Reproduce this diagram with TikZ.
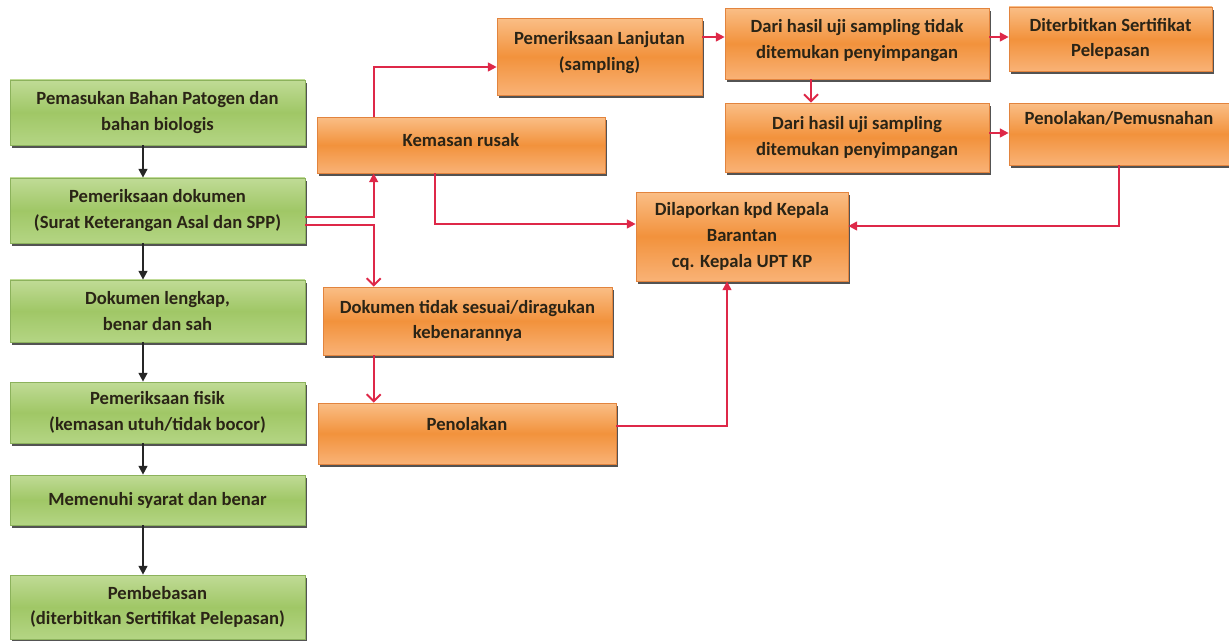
\documentclass[tikz,border=0pt]{standalone}
\usepackage{fontspec}
\setmainfont{Carlito}
\usetikzlibrary{arrows.meta,shadows}
\definecolor{ink}{RGB}{42,36,22}
\definecolor{leaftop}{RGB}{192,219,150}
\definecolor{leafmid}{RGB}{160,199,102}
\definecolor{leafbot}{RGB}{180,213,132}
\definecolor{leafedge}{RGB}{140,178,92}
\definecolor{peeltop}{RGB}{250,190,134}
\definecolor{peelmid}{RGB}{242,146,60}
\definecolor{peelbot}{RGB}{249,178,118}
\definecolor{peeledge}{RGB}{226,132,62}
\definecolor{flow}{RGB}{222,40,72}

\begin{document}
\begin{tikzpicture}[x=0.02cm, y=-0.02cm]
   \useasboundingbox (0,0) rectangle (1229,641);
   \tikzstyle{card}=[rectangle, align=center, text=ink, inner sep=2pt,
      font=\bfseries\fontsize{10.6}{14.6}\selectfont,
      drop shadow={shadow xshift=1.1pt, shadow yshift=-1.6pt, fill=black!75, opacity=.9}]
   \tikzstyle{okbox}=[card, draw=leafedge, top color=leaftop, bottom color=leafbot, middle color=leafmid, minimum width=5.9cm]
   \tikzstyle{warnbox}=[card, draw=peeledge, top color=peeltop, bottom color=peelbot, middle color=peelmid]
   \tikzstyle{barr}=[draw=black!85, line width=1pt, -{Triangle[length=5pt, width=5pt]}]
   \tikzstyle{rarr}=[draw=flow, line width=1.1pt, -{Triangle[length=5pt, width=5pt]}]
   \tikzstyle{rarrv}=[draw=flow, line width=1.1pt, -{Straight Barb[length=4pt, width=8pt]}]
   \foreach \i/\y/\h/\txt in {
      1/112.5/65/{Pemasukan Bahan Patogen dan\\bahan biologis},
      2/210.5/65/{Pemeriksaan dokumen\\(Surat Keterangan Asal dan SPP)},
      3/311/62/{Dokumen lengkap,\\benar dan sah},
      4/412.5/61/{Pemeriksaan fisik\\(kemasan utuh/tidak bocor)},
      5/500/50/{Memenuhi syarat dan benar},
      6/607/64/{Pembebasan\\(diterbitkan Sertifikat Pelepasan)}} {
       \node[okbox, minimum height=\h*0.02cm] (g\i) at (157.5,\y) {\txt};
   }
   \node[warnbox, minimum width=5.76cm, minimum height=1.12cm, text depth=6pt] (rusak) at (461,145) {Kemasan rusak};
   \node[warnbox, minimum width=4.1cm, minimum height=1.54cm, text depth=6pt] (lanjut) at (599.5,56.5) {Pemeriksaan Lanjutan\\(sampling)};
   \node[warnbox, minimum width=5.28cm, minimum height=1.42cm, text depth=5pt] (tidak) at (857,43.5) {Dari hasil uji sampling tidak\\ditemukan penyimpangan};
   \node[warnbox, minimum width=4.06cm, minimum height=1.28cm] (terbit) at (1110.5,39) {Diterbitkan Sertifikat\\Pelepasan};
   \node[warnbox, minimum width=5.28cm, minimum height=1.38cm] (temu) at (857,137.5) {Dari hasil uji sampling\\ditemukan penyimpangan};
   \node[warnbox, minimum width=4.4cm, minimum height=1.24cm, text depth=18pt] (musnah) at (1119,134) {Penolakan/Pemusnahan};
   \node[warnbox, minimum width=4.24cm, minimum height=1.78cm] (lapor) at (742,236.5) {Dilaporkan kpd Kepala\\Barantan\\cq. Kepala UPT KP};
   \node[warnbox, minimum width=5.78cm, minimum height=1.36cm] (ragu) at (467.5,321) {Dokumen tidak sesuai/diragukan\\kebenarannya};
   \node[warnbox, minimum width=5.96cm, minimum height=1.22cm, text depth=11pt] (tolak) at (467,433.5) {Penolakan};
   \coordinate (spine) at (143,0);
   \foreach \a/\b in {1/2,2/3,3/4,4/5,5/6} {
        \draw[barr] (g\a.south -| spine) -- (g\b.north -| spine);
   }
   \draw[rarr] ([yshift=-0.13cm]g2.east) -| ([xshift=1.14cm]rusak.south west);
   \draw[rarrv] ([yshift=-0.29cm]g2.east) -| ([xshift=1.02cm]ragu.north west);
   \draw[rarr] ([xshift=1.14cm]rusak.north west) |- ([yshift=-0.21cm]lanjut.west);
   \draw[rarr] ([xshift=2.36cm]rusak.south west) |- ([yshift=0.25cm]lapor.west);
   \draw[rarr] ([yshift=0.13cm]tidak.west -| lanjut.east) -- ([yshift=0.13cm]tidak.west);
   \draw[rarr] ([yshift=0.13cm]tidak.east) -- ([yshift=0.13cm]tidak.east -| terbit.west);
   \draw[rarrv] ([xshift=-0.92cm]tidak.south) -- ([xshift=-0.92cm]temu.north);
   \draw[rarr] ([yshift=0.09cm]temu.east) -- ([yshift=0.09cm]temu.east -| musnah.west);
   \draw[rarr] (musnah.south) |- ([yshift=0.21cm]lapor.east);
   \draw[rarrv] ([xshift=1.02cm]ragu.south west) -- ([xshift=1.02cm]ragu.south west |- tolak.north);
   \draw[rarr] ([yshift=0.15cm]tolak.east) -| ([xshift=-0.3cm]lapor.south);
\end{tikzpicture}
\end{document}
